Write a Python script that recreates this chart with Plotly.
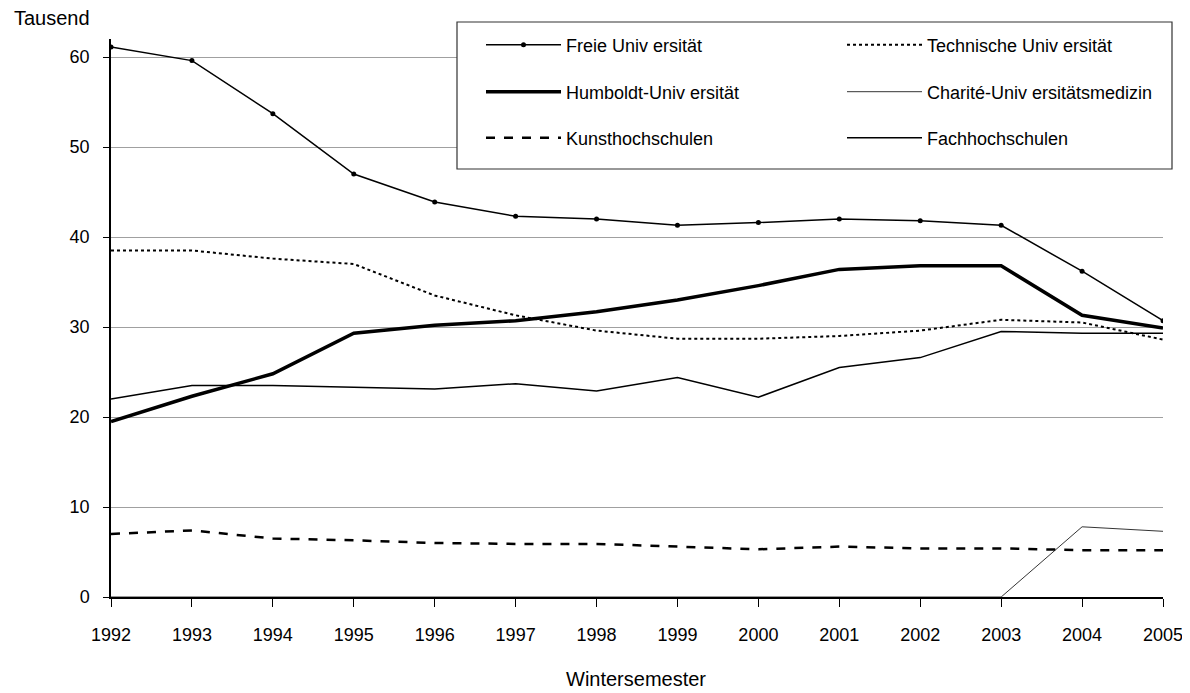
import plotly.graph_objects as go

years = list(range(1992, 2006))
freie = [61.1, 59.6, 53.7, 47.0, 43.9, 42.3, 42.0, 41.3, 41.6, 42.0, 41.8, 41.3, 36.2, 30.7]
technische = [38.5, 38.5, 37.6, 37.0, 33.5, 31.3, 29.6, 28.7, 28.7, 29.0, 29.6, 30.8, 30.5, 28.6]
humboldt = [19.5, 22.3, 24.8, 29.3, 30.2, 30.7, 31.7, 33.0, 34.6, 36.4, 36.8, 36.8, 31.3, 29.9]
charite = [0, 0, 0, 0, 0, 0, 0, 0, 0, 0, 0, 0, 7.8, 7.3]
kunst = [7.0, 7.4, 6.5, 6.3, 6.0, 5.9, 5.9, 5.6, 5.3, 5.6, 5.4, 5.4, 5.2, 5.2]
fach = [22.0, 23.5, 23.5, 23.3, 23.1, 23.7, 22.9, 24.4, 22.2, 25.5, 26.6, 29.5, 29.3, 29.3]
y_ticks = [0, 10, 20, 30, 40, 50, 60]

# page body has an 8px margin, so the figure is placed 8px right/down
OFF = 8
W, H = 1182, 685
PL, PR, PT, PB = 111, 1163, 39, 597          # plot area in page pixels
L, R, T, B = PL - OFF, W + OFF - PR, PT - OFF, H + OFF - PB
pw, ph = PR - PL, PB - PT
def px(x): return (x - PL) / pw
def py(y): return (PB - y) / ph

FONT = "Liberation Sans, Arial, sans-serif"
fig = go.Figure()
fig.add_trace(go.Scatter(x=years, y=freie, name="Freie Univ ersität", mode="lines+markers",
                         line=dict(color="black", width=1.5), marker=dict(size=5, color="black"),
                         legend="legend"))
fig.add_trace(go.Scatter(x=years, y=technische, name="Technische Univ ersität", mode="lines",
                         line=dict(color="black", width=2, dash="dot"), legend="legend2"))
fig.add_trace(go.Scatter(x=years, y=humboldt, name="Humboldt-Univ ersität", mode="lines",
                         line=dict(color="black", width=3.5), legend="legend3"))
fig.add_trace(go.Scatter(x=years, y=charite, name="Charité-Univ ersitätsmedizin", mode="lines",
                         line=dict(color="black", width=0.8), legend="legend4"))
fig.add_trace(go.Scatter(x=years, y=kunst, name="Kunsthochschulen", mode="lines",
                         line=dict(color="black", width=2.5, dash="dash"), legend="legend5"))
fig.add_trace(go.Scatter(x=years, y=fach, name="Fachhochschulen", mode="lines",
                         line=dict(color="black", width=1.5), legend="legend6"))

def leg(xp, yp):
    return dict(x=px(xp), y=py(yp), xanchor="left", yanchor="middle", visible=True,
                bgcolor="rgba(0,0,0,0)", borderwidth=0, itemwidth=75,
                font=dict(family=FONT, size=18, color="black"))

COL1, COL2 = 481, 842
ROWS = [45, 92, 138]

fig.update_layout(
    width=W, height=H,
    margin=dict(l=L, r=R, t=T, b=B, autoexpand=False),
    paper_bgcolor="white", plot_bgcolor="white",
    font=dict(family=FONT, size=18, color="black"),
    showlegend=True,
    legend=leg(COL1, ROWS[0]), legend2=leg(COL2, ROWS[0]),
    legend3=leg(COL1, ROWS[1]), legend4=leg(COL2, ROWS[1]),
    legend5=leg(COL1, ROWS[2]), legend6=leg(COL2, ROWS[2]),
    xaxis=dict(range=[1992, 2005], tickvals=years, ticktext=[str(y) for y in years],
               showgrid=False, showline=True, linecolor="black", linewidth=1.5,
               ticks="outside", ticklen=8, tickcolor="black", ticklabelstandoff=13,
               tickfont=dict(family=FONT, size=18), zeroline=False, automargin=False),
    yaxis=dict(range=[0, 62], tickvals=y_ticks, showgrid=True, gridcolor="#a0a0a0",
               gridwidth=1, showline=True, linecolor="black", linewidth=1.5,
               ticks="outside", ticklen=6, tickcolor="black", ticklabelstandoff=10,
               tickfont=dict(family=FONT, size=18), zeroline=False, automargin=False),
    shapes=[dict(type="rect", xref="paper", yref="paper", x0=px(457), x1=px(1172),
                 y0=py(169), y1=py(22), line=dict(color="#333333", width=1.2),
                 fillcolor="white", layer="above")],
    annotations=[
        dict(text="Tausend", xref="paper", yref="paper", x=px(12), y=py(18),
             xanchor="left", yanchor="middle", showarrow=False, font=dict(size=20)),
        dict(text="Wintersemester", xref="paper", yref="paper", x=px(636), y=py(679),
             xanchor="center", yanchor="middle", showarrow=False, font=dict(size=20)),
    ],
)
fig.write_html("out.html")
